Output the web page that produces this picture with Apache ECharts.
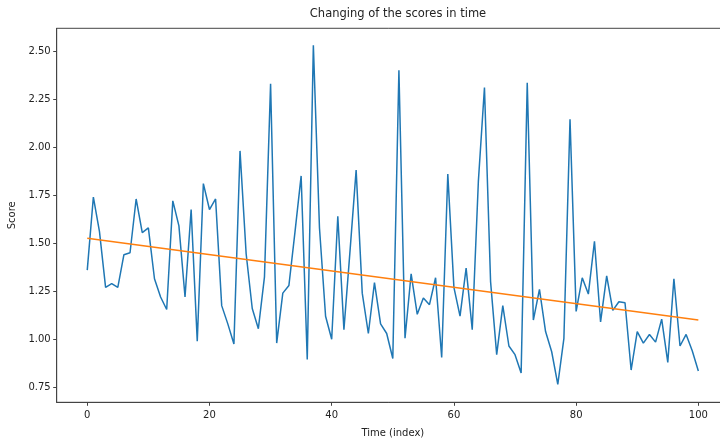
<!DOCTYPE html>
<html>
<head>
<meta charset="utf-8">
<script src="https://cdn.jsdelivr.net/npm/echarts@6/dist/echarts.min.js"></script>
<style>
  html, body { margin: 0; padding: 0; background: #fff; }
  #chart { width: 720px; height: 443px; }
</style>
</head>
<body>
<div id="chart"></div>
<script>
// Score recorded at each time index 0..100
const scores = [
  1.36, 1.74, 1.56, 1.27, 1.29, 1.27, 1.44, 1.45, 1.73, 1.555,
  1.58, 1.315, 1.22, 1.155, 1.72, 1.59, 1.22, 1.675, 0.99, 1.81,
  1.675, 1.73, 1.175, 1.08, 0.975, 1.98, 1.445, 1.16, 1.055, 1.325,
  2.33, 0.98, 1.24, 1.28, 1.56, 1.85, 0.895, 2.53, 1.58, 1.12,
  1.00, 1.64, 1.05, 1.46, 1.88, 1.24, 1.03, 1.295, 1.08, 1.03,
  0.90, 2.40, 1.005, 1.34, 1.13, 1.215, 1.18, 1.32, 0.905, 1.86,
  1.27, 1.12, 1.37, 1.05, 1.82, 2.31, 1.30, 0.92, 1.175, 0.965,
  0.92, 0.825, 2.335, 1.10, 1.26, 1.04, 0.935, 0.765, 1.005, 2.145,
  1.145, 1.32, 1.235, 1.51, 1.09, 1.33, 1.15, 1.195, 1.19, 0.84,
  1.04, 0.98, 1.025, 0.985, 1.105, 0.88, 1.315, 0.965, 1.025, 0.94,
  0.835
];

// Linear trend fitted to the scores (value at first and last index)
const trendIndex = [0, 100];
const trendValue = [1.525, 1.100];

// Tick labels
const xTicks = [0, 20, 40, 60, 80, 100];
const yTicks = [0.75, 1.00, 1.25, 1.50, 1.75, 2.00, 2.25, 2.50];

const scoreData = scores.map((v, i) => [i, v]);
const trendData = trendIndex.map((x, i) => [x, trendValue[i]]);

const FONT = 'DejaVu Sans';
const AXIS_COLOR = '#444';

const chart = echarts.init(document.getElementById('chart'), null, { renderer: 'canvas' });
chart.setOption({
  animation: false,
  backgroundColor: '#fff',
  title: {
    text: 'Changing of the scores in time',
    left: 393,
    textAlign: 'center',
    top: 3,
    textStyle: { fontFamily: FONT, fontSize: 11.5, fontWeight: 'normal', color: '#222' }
  },
  grid: {
    left: 56.7, top: 28.3, width: 672.2, height: 374,
    outerBoundsMode: 'none',
    containLabel: false,
    show: true, borderColor: AXIS_COLOR, borderWidth: 1, backgroundColor: '#fff'
  },
  xAxis: {
    type: 'value',
    min: -5, max: 105,
    name: 'Time (index)',
    nameLocation: 'middle',
    nameGap: 26,
    nameTextStyle: { fontFamily: FONT, fontSize: 10, color: '#222' },
    splitLine: { show: false },
    axisLine: { show: true, onZero: false, lineStyle: { color: AXIS_COLOR, width: 1 } },
    axisTick: { show: true, customValues: xTicks, length: 3.5, lineStyle: { color: AXIS_COLOR } },
    axisLabel: {
      customValues: xTicks, margin: 8,
      fontFamily: FONT, fontSize: 10, color: '#222',
      formatter: v => String(v)
    }
  },
  yAxis: {
    type: 'value',
    min: 0.672, max: 2.618,
    name: 'Score',
    nameLocation: 'middle',
    nameGap: 34,
    nameRotate: 90,
    nameTextStyle: { fontFamily: FONT, fontSize: 10, color: '#222' },
    splitLine: { show: false },
    axisLine: { show: true, onZero: false, lineStyle: { color: AXIS_COLOR, width: 1 } },
    axisTick: { show: true, customValues: yTicks, length: 3.5, lineStyle: { color: AXIS_COLOR } },
    axisLabel: {
      customValues: yTicks, margin: 6,
      fontFamily: FONT, fontSize: 10, color: '#222',
      formatter: v => v.toFixed(2)
    }
  },
  series: [
    {
      name: 'score',
      type: 'line',
      data: scoreData,
      showSymbol: false,
      symbol: 'none',
      lineStyle: { color: '#1f77b4', width: 1.5 },
      z: 2
    },
    {
      name: 'trend',
      type: 'line',
      data: trendData,
      showSymbol: false,
      symbol: 'none',
      lineStyle: { color: '#ff7f0e', width: 1.5 },
      z: 3
    }
  ]
});
</script>
</body>
</html>
